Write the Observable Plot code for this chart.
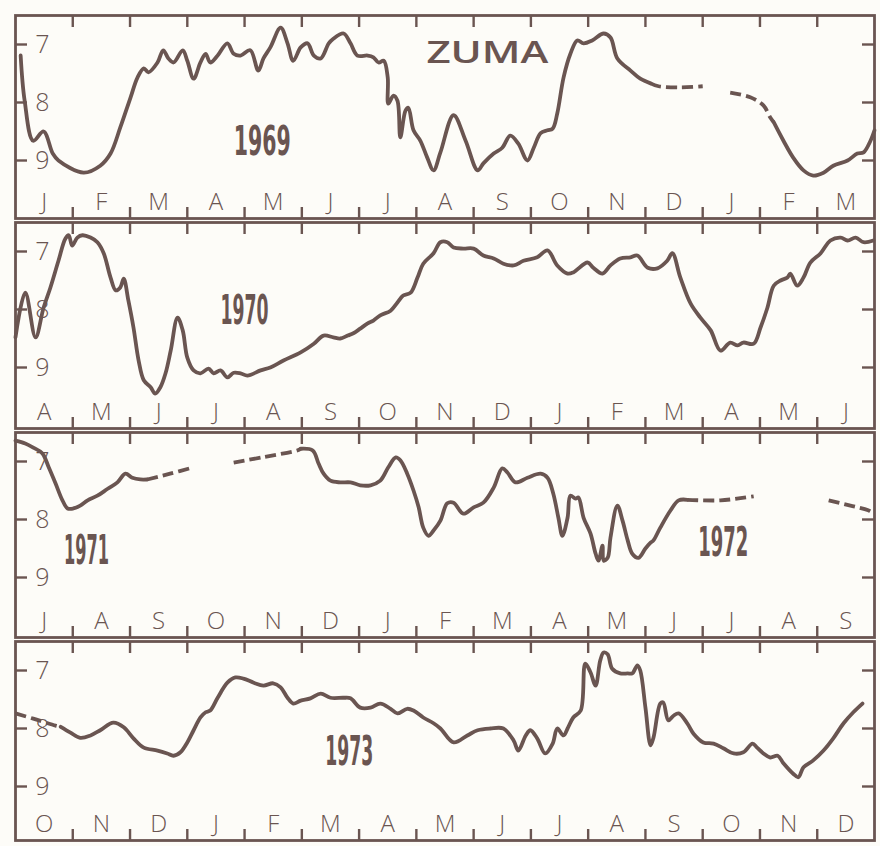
<!DOCTYPE html>
<html>
<head>
<meta charset="utf-8">
<script src="https://cdn.jsdelivr.net/npm/d3@7"></script>
<script src="https://cdn.jsdelivr.net/npm/@observablehq/plot@0.6"></script>
<style>
  html, body { margin: 0; padding: 0; background: #fdfcf8; }
  #chart { width: 880px; }
  #chart svg { display: block; }
</style>
</head>
<body>
<div id="chart"></div>
<script>
// ---------- DATA (time = months since the start of each panel, depth in m) ----------
const months1969 = ["J","F","M","A","M","J","J","A","S","O","N","D","J","F","M"];
const months1970 = ["A","M","J","J","A","S","O","N","D","J","F","M","A","M","J"];
const months1971 = ["J","A","S","O","N","D","J","F","M","A","M","J","J","A","S"];
const months1973 = ["O","N","D","J","F","M","A","M","J","J","A","S","O","N","D"];
const depthTicks = [7, 8, 9];

// Panel 1: Jan 1969 – Mar 1970
const p1Solid1 = [[0.09,7.19],[0.16,7.97],[0.31,8.66],[0.49,8.50],[0.65,8.88],[0.75,9.00],[1.19,9.21],[1.48,9.09],[1.66,8.88],[1.83,8.43],[2.01,7.91],[2.13,7.57],[2.24,7.41],[2.32,7.48],[2.48,7.31],[2.58,7.10],[2.67,7.24],[2.76,7.31],[2.92,7.10],[3.00,7.28],[3.11,7.59],[3.23,7.31],[3.32,7.16],[3.40,7.31],[3.53,7.19],[3.70,6.98],[3.81,7.16],[3.93,7.19],[4.10,7.10],[4.24,7.45],[4.33,7.24],[4.45,7.05],[4.63,6.71],[4.75,6.98],[4.85,7.28],[4.98,7.05],[5.10,6.98],[5.21,7.19],[5.33,7.24],[5.47,6.98],[5.55,6.90],[5.73,6.81],[5.85,6.98],[5.97,7.19],[6.15,7.19],[6.25,7.22],[6.34,7.31],[6.43,7.28],[6.50,7.57],[6.51,8.02],[6.60,7.88],[6.67,7.97],[6.72,8.60],[6.81,8.14],[6.86,8.09],[6.95,8.48],[7.07,8.66],[7.19,8.95],[7.30,9.17],[7.42,8.86],[7.65,8.22],[7.86,8.66],[8.07,9.17],[8.17,9.05],[8.35,8.88],[8.50,8.78],[8.64,8.57],[8.78,8.71],[8.94,9.00],[9.05,8.78],[9.17,8.53],[9.29,8.48],[9.38,8.45],[9.46,8.19],[9.57,7.57],[9.69,7.16],[9.81,6.93],[9.92,6.98],[10.07,6.93],[10.27,6.81],[10.39,6.88],[10.51,7.24],[10.74,7.45],[10.91,7.59],[11.09,7.67]];
const p1Dash1 = [[11.09,7.67],[11.23,7.72],[11.62,7.74],[12.00,7.72]];
const p1Dash2 = [[12.48,7.83],[12.83,7.91],[13.06,8.05],[13.18,8.26],[13.24,8.34]];
const p1Solid2 = [[13.24,8.34],[13.41,8.66],[13.58,8.95],[13.76,9.17],[13.93,9.26],[14.11,9.21],[14.28,9.09],[14.53,9.00],[14.70,8.88],[14.81,8.86],[14.93,8.66],[15.00,8.48]];

// Panel 2: Apr 1970 – Jun 1971
const p2Solid = [[0,8.48],[0.17,7.71],[0.35,8.48],[0.49,7.97],[0.61,7.62],[0.75,7.16],[0.87,6.78],[0.93,6.72],[0.99,6.90],[1.08,6.76],[1.17,6.72],[1.31,6.76],[1.43,6.84],[1.54,7.03],[1.66,7.45],[1.75,7.67],[1.83,7.62],[1.89,7.47],[1.97,7.84],[2.06,8.31],[2.15,8.88],[2.24,9.22],[2.36,9.34],[2.44,9.45],[2.53,9.34],[2.62,9.10],[2.71,8.71],[2.83,8.14],[2.92,8.36],[3.00,8.83],[3.11,9.05],[3.23,9.10],[3.37,9.02],[3.46,9.10],[3.58,9.05],[3.70,9.17],[3.81,9.09],[3.93,9.10],[4.05,9.14],[4.28,9.05],[4.45,9.00],[4.68,8.88],[4.98,8.74],[5.21,8.59],[5.38,8.45],[5.55,8.48],[5.67,8.50],[5.80,8.45],[5.90,8.41],[6.02,8.33],[6.15,8.24],[6.25,8.19],[6.37,8.10],[6.55,8.02],[6.67,7.88],[6.77,7.76],[6.90,7.71],[7.02,7.45],[7.12,7.21],[7.30,7.03],[7.42,6.84],[7.54,6.84],[7.65,6.93],[7.82,6.95],[8.00,6.95],[8.17,7.07],[8.35,7.12],[8.52,7.21],[8.70,7.24],[8.87,7.16],[9.11,7.10],[9.29,6.98],[9.46,7.24],[9.64,7.38],[9.74,7.36],[9.99,7.19],[10.09,7.28],[10.25,7.38],[10.39,7.24],[10.56,7.12],[10.74,7.10],[10.86,7.07],[11.04,7.28],[11.21,7.29],[11.38,7.16],[11.47,7.03],[11.61,7.45],[11.79,7.90],[11.96,8.14],[12.14,8.36],[12.31,8.71],[12.48,8.57],[12.61,8.62],[12.71,8.57],[12.89,8.59],[13.01,8.31],[13.13,7.97],[13.24,7.59],[13.36,7.50],[13.48,7.45],[13.53,7.38],[13.65,7.59],[13.76,7.45],[13.88,7.19],[14.06,7.03],[14.23,6.81],[14.41,6.76],[14.53,6.81],[14.67,6.76],[14.81,6.84],[14.98,6.81]];

// Panel 3: Jul 1971 – Sep 1972
const p3Solid1 = [[0,6.64],[0.17,6.69],[0.31,6.76],[0.47,6.86],[0.58,7.10],[0.70,7.38],[0.82,7.67],[0.91,7.81],[1.01,7.81],[1.13,7.76],[1.26,7.67],[1.43,7.59],[1.61,7.47],[1.78,7.36],[1.92,7.21],[2.04,7.28],[2.18,7.31],[2.30,7.31]];
const p3Dash1 = [[2.30,7.31],[2.70,7.21],[3.11,7.10]];
const p3Dash2 = [[3.81,7.02],[4.35,6.92],[4.92,6.81],[4.98,6.78]];
const p3Solid2 = [[4.98,6.78],[5.19,6.81],[5.29,7.03],[5.38,7.21],[5.50,7.33],[5.67,7.36],[5.85,7.36],[6.02,7.41],[6.20,7.41],[6.37,7.33],[6.51,7.10],[6.64,6.93],[6.72,6.98],[6.84,7.21],[6.95,7.50],[7.04,7.79],[7.12,8.14],[7.21,8.28],[7.30,8.19],[7.42,8.02],[7.54,7.72],[7.65,7.71],[7.82,7.90],[8.00,7.79],[8.17,7.71],[8.35,7.45],[8.50,7.12],[8.59,7.19],[8.73,7.36],[8.94,7.28],[9.17,7.21],[9.29,7.28],[9.39,7.55],[9.48,7.97],[9.55,8.28],[9.64,7.97],[9.69,7.59],[9.78,7.64],[9.83,7.62],[9.92,7.97],[10.04,8.24],[10.13,8.59],[10.18,8.71],[10.25,8.45],[10.27,8.71],[10.34,8.66],[10.39,8.31],[10.51,7.76],[10.60,8.02],[10.69,8.36],[10.77,8.59],[10.88,8.66],[11.00,8.50],[11.09,8.40],[11.14,8.36],[11.26,8.14],[11.44,7.84],[11.58,7.67],[11.73,7.66]];
const p3Dash3 = [[11.73,7.66],[12.31,7.67],[12.89,7.60]];
const p3Dash4 = [[14.20,7.67],[14.58,7.76],[14.89,7.84],[15.00,7.90]];

// Panel 4: Oct 1972 – Dec 1973
const p4Dash1 = [[0,7.74],[0.31,7.83],[0.70,7.95],[0.79,7.97]];
const p4Solid = [[0.79,7.97],[0.96,8.07],[1.13,8.16],[1.31,8.12],[1.48,8.03],[1.71,7.90],[1.89,7.98],[2.06,8.17],[2.24,8.33],[2.48,8.38],[2.65,8.43],[2.76,8.47],[2.88,8.41],[3.00,8.24],[3.11,8.03],[3.23,7.81],[3.32,7.72],[3.40,7.69],[3.53,7.47],[3.70,7.21],[3.84,7.12],[3.98,7.14],[4.16,7.21],[4.33,7.26],[4.50,7.22],[4.63,7.29],[4.75,7.47],[4.85,7.57],[4.98,7.52],[5.15,7.48],[5.33,7.40],[5.50,7.47],[5.73,7.47],[5.85,7.48],[6.02,7.64],[6.20,7.64],[6.37,7.57],[6.55,7.66],[6.67,7.74],[6.84,7.66],[6.95,7.69],[7.12,7.81],[7.30,7.91],[7.42,8.00],[7.65,8.24],[7.89,8.12],[8.07,8.03],[8.29,8.00],[8.52,8.00],[8.70,8.21],[8.78,8.38],[8.91,8.12],[8.99,8.03],[9.11,8.17],[9.25,8.43],[9.38,8.26],[9.46,8.00],[9.57,8.12],[9.65,7.98],[9.74,7.81],[9.87,7.69],[9.95,6.88],[10.04,7.03],[10.13,7.26],[10.21,6.83],[10.27,6.69],[10.34,6.72],[10.42,6.97],[10.56,7.05],[10.69,7.05],[10.77,7.05],[10.86,6.91],[10.91,7.00],[11.00,7.64],[11.09,8.29],[11.14,8.16],[11.26,7.57],[11.31,7.55],[11.40,7.86],[11.49,7.78],[11.58,7.74],[11.73,7.91],[11.84,8.09],[12.01,8.24],[12.19,8.26],[12.36,8.34],[12.54,8.43],[12.71,8.41],[12.87,8.26],[12.95,8.33],[13.06,8.43],[13.18,8.50],[13.31,8.47],[13.41,8.60],[13.58,8.78],[13.67,8.84],[13.76,8.67],[13.93,8.55],[14.11,8.38],[14.28,8.17],[14.46,7.91],[14.63,7.72],[14.79,7.57]];

// Annotations (placed in data coordinates)
const annotations1 = [{text: "ZUMA", t: 8.24, d: 7.14}, {text: "1969", t: 4.31, d: 8.69}];
const annotations2 = [{text: "1970", t: 4.0, d: 8.03}];
const annotations3 = [{text: "1971", t: 1.24, d: 8.55}, {text: "1972", t: 12.36, d: 8.40}];
const annotations4 = [{text: "1973", t: 5.83, d: 8.41}];

// ---------- LAYOUT & STYLE ----------
const INK = "#6a5551";
const PX_PER_M = 58;
const frameHeights = [203, 206, 205, 199];
const marginTops = [15, 2, 2, 2];
const marginBottoms = [2, 2, 2, 6];
const textWidths = {"ZUMA": 122, "1969": 57, "1970": 48, "1971": 45, "1972": 50, "1973": 48};

const panels = [
  {months: months1969, solid: [p1Solid1, p1Solid2], dashed: [p1Dash1, p1Dash2], notes: annotations1},
  {months: months1970, solid: [p2Solid], dashed: [], notes: annotations2},
  {months: months1971, solid: [p3Solid1, p3Solid2], dashed: [p3Dash1, p3Dash2, p3Dash3, p3Dash4], notes: annotations3},
  {months: months1973, solid: [p4Solid], dashed: [p4Dash1], notes: annotations4}
];

const W = 880, ML = 15, MR = 6;
const monthPx = (W - ML - MR) / 15;
const thin = "'Open Sans', 'DejaVu Sans', sans-serif";
const bold = "'Liberation Sans Narrow', 'DejaVu Sans Condensed', 'DejaVu Sans', sans-serif";

panels.forEach((p, k) => {
  const H = frameHeights[k];
  const yTop = 6.5, yBot = 6.5 + H / PX_PER_M;
  const bounds = d3.range(1, 15);
  const lineOpts = {x: d => d[0], y: d => d[1], stroke: INK, strokeWidth: 3.8, strokeLinejoin: "round", strokeLinecap: "round", curve: "catmull-rom"};
  const svg = Plot.plot({
    width: W,
    height: H + marginTops[k] + marginBottoms[k],
    marginLeft: ML, marginRight: MR, marginTop: marginTops[k], marginBottom: marginBottoms[k],
    x: {domain: [0, 15], axis: null},
    y: {domain: [yTop, yBot], reverse: true, axis: null},
    style: {background: "transparent", overflow: "visible"},
    marks: [
      Plot.frame({stroke: INK, strokeWidth: 2.8}),
      Plot.ruleX(bounds, {x: d => d, y1: yTop, y2: yTop + 12 / PX_PER_M, stroke: INK, strokeWidth: 2.4}),
      Plot.ruleX(bounds, {x: d => d, y1: yBot, y2: yBot - 11 / PX_PER_M, stroke: INK, strokeWidth: 2.4}),
      Plot.ruleY(depthTicks, {y: d => d, x1: 0, x2: 12 / monthPx, stroke: INK, strokeWidth: 2.4}),
      Plot.ruleY(depthTicks, {y: d => d, x1: 15 - 12 / monthPx, x2: 15, stroke: INK, strokeWidth: 2.4}),
      Plot.text(depthTicks, {x: 0, y: d => d, text: d => String(d), dx: 27, fontSize: 25, fontWeight: 300, fontFamily: thin, fill: INK, textAnchor: "middle"}),
      Plot.text(p.months, {x: (d, i) => i + 0.5, y: yBot, dy: -16.5, text: d => d, fontSize: 24, fontWeight: 300, fontFamily: thin, fill: INK, textAnchor: "middle"}),
      ...p.dashed.map(seg => Plot.line(seg, {...lineOpts, strokeDasharray: "11,5", strokeLinecap: "butt"})),
      ...p.solid.map(seg => Plot.line(seg, lineOpts)),
      Plot.text(p.notes.filter(n => n.text !== "ZUMA"), {x: "t", y: "d", text: "text", fontSize: 40, fontWeight: "bold", fontFamily: bold, fill: INK, textAnchor: "middle"}),
      Plot.text(p.notes.filter(n => n.text === "ZUMA"), {x: "t", y: "d", text: "text", fontSize: 31, fontWeight: 600, fontFamily: thin, fill: INK, textAnchor: "middle"})
    ]
  });
  svg.querySelectorAll("text").forEach(t => {
    const s = t.textContent.trim();
    if (textWidths[s]) {
      t.setAttribute("textLength", textWidths[s]);
      t.setAttribute("lengthAdjust", "spacingAndGlyphs");
    }
  });
  document.getElementById("chart").appendChild(svg);
});
</script>
</body>
</html>
